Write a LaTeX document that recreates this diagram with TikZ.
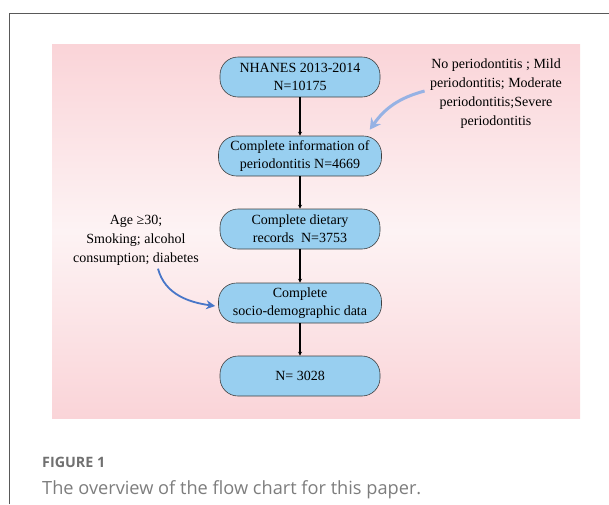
\documentclass[tikz,border=0pt]{standalone}
\usepackage{fontspec}
\setmainfont{Liberation Serif}
\newfontfamily\capfont{Open Sans}
\usepackage{xcolor}
\usetikzlibrary{arrows.meta,positioning}
\definecolor{boxblue}{RGB}{152,207,240}
\definecolor{pinkedge}{RGB}{250,212,216}
\definecolor{pinkmid}{RGB}{253,243,244}
\definecolor{notearrow}{RGB}{150,178,228}
\definecolor{sidearrow}{RGB}{72,118,200}
\definecolor{capgray}{RGB}{112,112,112}
\definecolor{textgray}{RGB}{125,125,125}

\begin{document}
\begin{tikzpicture}[x=1pt,y=-1pt,
    stage/.style={draw=black!75, line width=0.6pt, fill=boxblue, rounded corners=18pt,
        minimum width=160pt, minimum height=40pt, inner sep=2pt, align=center,
        font=\fontsize{14}{18}\selectfont},
    note/.style={align=center, font=\fontsize{14}{19}\selectfont},
    flow/.style={-{Stealth[length=4pt,width=4pt]}, line width=1.4pt}]
\useasboundingbox (0,0) rectangle (609,504);
% card frame and panel
\draw[black!65, line width=0.8pt] (9,504) -- (9,13) -- (609,13);
\shade[top color=pinkedge, bottom color=pinkedge, middle color=pinkmid] (52,44) rectangle (580,418);
% flow
\node[stage] (nhanes) at (300,77) {NHANES 2013-2014\\N=10175};
\node[stage, minimum width=163pt] (perio) at (300,156) {Complete information of\\periodontitis N=4669};
\node[stage] (diet) at (300,229) {Complete dietary\\records~~N=3753};
\node[stage, minimum width=163pt] (socio) at (300,303) {Complete\\socio-demographic data};
\node[stage] (final) at (300,376) {N= 3028};
\draw[flow] (nhanes) -- (perio);
\draw[flow] (perio) -- (diet);
\draw[flow] (diet) -- (socio);
\draw[flow] (socio) -- (final);
% notes
\node[note] (sevnote) at (496,94) {No periodontitis ; Mild\\periodontitis; Moderate\\periodontitis;Severe\\periodontitis};
\node[note] (covnote) at (136,240) {Age ≥30;\\Smoking; alcohol\\consumption; diabetes};
\draw[notearrow, line width=3pt, -{Stealth[length=11pt,width=12pt]}]
    ([xshift=-2pt,yshift=3pt]sevnote.west) to[out=195, in=55] ([xshift=-12pt,yshift=6pt]perio.north east);
\draw[sidearrow, line width=1.8pt, -{Stealth[length=9pt,width=9pt]}]
    ([xshift=22pt]covnote.south) to[out=-75, in=172] ([xshift=-3pt,yshift=-3pt]socio.west);
% caption
\node[anchor=base west, inner sep=0pt, text=capgray, font=\capfont\bfseries\fontsize{14.3}{15}\selectfont] (figno) at (42,467) {FIGURE 1};
\node[anchor=base west, inner sep=0pt, text=textgray, font=\capfont\fontsize{18.2}{20}\selectfont] (figcap) at (42,494) {The overview of the flow chart for this paper.};
\end{tikzpicture}
\end{document}
